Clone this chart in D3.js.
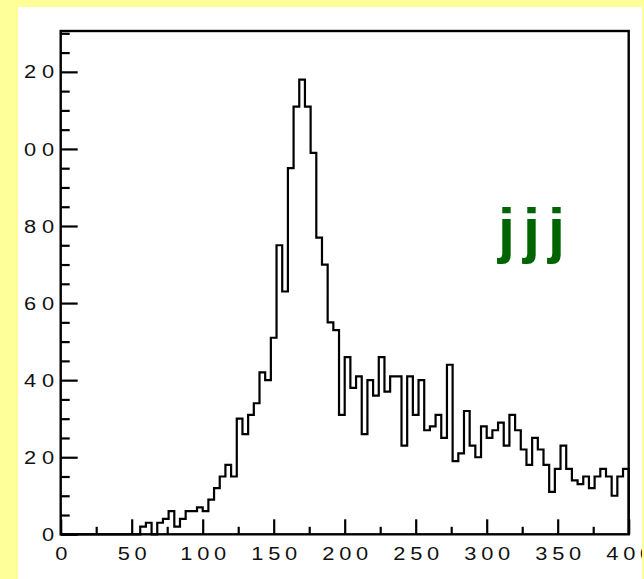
<!DOCTYPE html>
<html>
<head>
<meta charset="utf-8">
<script src="https://cdn.jsdelivr.net/npm/d3@7"></script>
<style>
  html, body { margin: 0; padding: 0; background: #ffff99; }
  svg { display: block; }
</style>
</head>
<body>
<svg id="chart" width="644" height="579"></svg>
<script>
// Histogram: 100 bins of width 4 between 0 and 400
const binLow = 0;
const binWidth = 4;
const counts = [
  0, 0, 0, 0, 0, 0, 0, 0, 0, 0,
  0, 0, 0, 0, 2, 3, 0, 3, 4, 6,
  2, 4, 6, 6, 7, 6, 9, 12, 15, 18,
  15, 30, 26, 31, 34, 42, 40, 51, 75, 63,
  95, 111, 118, 111, 99, 77, 70, 55, 53, 31,
  46, 38, 41, 26, 40, 36, 46, 37, 41, 41,
  23, 41, 31, 40, 27, 28, 31, 25, 44, 19,
  21, 32, 23, 20, 28, 25, 27, 29, 23, 31,
  27, 22, 18, 25, 22, 18, 11, 17, 23, 17,
  14, 13, 15, 12, 15, 17, 15, 10, 15, 17
];

// Axis ticks and labels
const xMajorTicks = [0, 50, 100, 150, 200, 250, 300, 350, 400];
const xMinorTicks = [25, 75, 125, 175, 225, 275, 325, 375];
const yMajorTicks = [0, 20, 40, 60, 80, 100, 120];
const yMinorTicks = [5, 10, 15, 25, 30, 35, 45, 50, 55, 65, 70, 75, 85, 90, 95, 105, 110, 115, 125, 130];
const title = "jjj";

const W = 644, H = 579;
const pad = { x0: 18, y0: 7, x1: 642, y1: 579 };
const frame = { left: 60.7, right: 628.7, top: 31, bottom: 534.3 };
const yMax = 130.6;

const svg = d3.select("#chart");

svg.append("defs").append("clipPath").attr("id", "padClip")
  .append("rect")
  .attr("x", pad.x0).attr("y", pad.y0)
  .attr("width", pad.x1 - pad.x0).attr("height", pad.y1 - pad.y0);

svg.append("rect").attr("width", W).attr("height", H).attr("fill", "#ffff99");

const g = svg.append("g").attr("clip-path", "url(#padClip)");
g.append("rect")
  .attr("x", pad.x0).attr("y", pad.y0)
  .attr("width", pad.x1 - pad.x0).attr("height", pad.y1 - pad.y0)
  .attr("fill", "#ffffff");

const x = d3.scaleLinear().domain([binLow, binLow + counts.length * binWidth]).range([frame.left, frame.right]);
const y = d3.scaleLinear().domain([0, yMax]).range([frame.bottom, frame.top]);

// Step outline of the histogram
const pts = [[binLow, 0]];
counts.forEach((c, i) => {
  const lo = binLow + i * binWidth;
  pts.push([lo, c], [lo + binWidth, c]);
});
pts.push([binLow + counts.length * binWidth, 0]);

g.append("path")
  .datum(pts)
  .attr("fill", "none")
  .attr("stroke", "#000")
  .attr("stroke-width", 2.2)
  .attr("stroke-linejoin", "miter")
  .attr("d", d3.line().x(d => x(d[0])).y(d => y(d[1])));

// Frame
g.append("rect")
  .attr("x", frame.left).attr("y", frame.top)
  .attr("width", frame.right - frame.left).attr("height", frame.bottom - frame.top)
  .attr("fill", "none").attr("stroke", "#000").attr("stroke-width", 2.4);

const labelFont = "Liberation Sans, Arial, sans-serif";
const lsX = 4.2;      // letter spacing of x tick labels
const lsY = 5.0;      // letter spacing of y tick labels
const stretch = 1.15; // horizontal widening of tick label glyphs

function styleAxis(sel, ls) {
  sel.select(".domain").remove();
  sel.selectAll(".tick line").attr("stroke", "#000").attr("stroke-width", 2.2);
  sel.selectAll(".tick text")
    .attr("fill", "#111")
    .style("font-family", labelFont)
    .style("font-size", "19px")
    .style("letter-spacing", (ls || 0) + "px");
}

// Move each label's position into a transform so the glyphs can be widened
function widenLabels(sel, dx) {
  sel.selectAll(".tick text").each(function () {
    const t = d3.select(this);
    const tx = +t.attr("x") || 0;
    const ty = +t.attr("y") || 0;
    t.attr("x", 0).attr("y", 0).attr("dx", dx)
      .attr("transform", `translate(${tx},${ty}) scale(${stretch},1)`);
  });
}

// Y axis: ticks point into the frame
g.append("g")
  .attr("transform", `translate(${frame.left},0)`)
  .call(d3.axisLeft(y).tickValues(yMinorTicks).tickSizeInner(-9).tickSizeOuter(0).tickFormat(""))
  .call(styleAxis);

g.append("g")
  .attr("transform", `translate(${frame.left},0)`)
  .call(d3.axisLeft(y).tickValues(yMajorTicks).tickSizeInner(-17).tickSizeOuter(0).tickPadding(6.6).tickFormat(d3.format("d")))
  .call(styleAxis, lsY)
  .call(s => widenLabels(s, lsY));

// X axis
g.append("g")
  .attr("transform", `translate(0,${frame.bottom})`)
  .call(d3.axisBottom(x).tickValues(xMinorTicks).tickSizeInner(-7.5).tickSizeOuter(0).tickFormat(""))
  .call(styleAxis);

g.append("g")
  .attr("transform", `translate(0,${frame.bottom})`)
  .call(d3.axisBottom(x).tickValues(xMajorTicks).tickSizeInner(-15).tickSizeOuter(0).tickPadding(12).tickFormat(d3.format("d")))
  .call(styleAxis, lsX)
  .call(s => widenLabels(s, lsX / 2));

// Title text inside the frame
g.append("text")
  .attr("x", 498)
  .attr("y", 251)
  .attr("fill", "#006400")
  .style("font-family", "Liberation Sans, Arial, sans-serif")
  .style("font-weight", "bold")
  .style("font-size", "61px")
  .style("letter-spacing", "8px")
  .text(title);
</script>
</body>
</html>
